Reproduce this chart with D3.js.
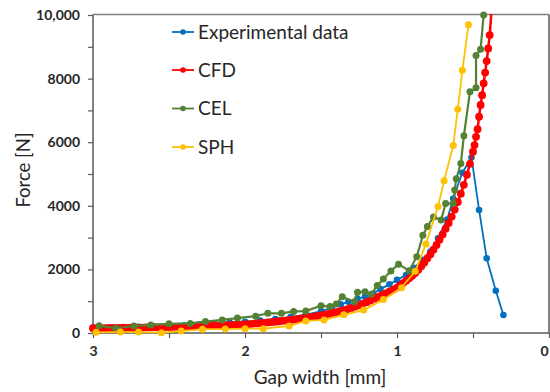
<!DOCTYPE html>
<html><head><meta charset="utf-8">
<script src="https://cdn.jsdelivr.net/npm/d3@7"></script>
<style>body{margin:0;background:#fff;} svg{display:block;}</style>
</head><body>
<svg id="chart" width="550" height="392"></svg>
<script>
// ---- data (gap width mm, force N) ----
const seriesNames = ["Experimental data", "CFD", "CEL", "SPH"];
const seriesColors = ["#0070C0", "#FF0000", "#548235", "#FFC000"];

const expGap = [3.0,2.9,2.8,2.7,2.6,2.5,2.4,2.3,2.2,2.1,2.0,1.9,1.8,1.7,1.6,1.5,1.43,1.37,1.32,1.26,1.21,1.16,1.11,1.05,1.0,0.94,0.89,0.83,0.78,0.73,0.67,0.63,0.57,0.51,0.46,0.41,0.35,0.30];
const expForce = [170,175,185,195,210,225,245,265,290,320,350,390,440,500,580,680,800,900,980,1080,1140,1230,1380,1530,1670,1820,2050,2300,2560,2980,3570,4230,5040,5520,3870,2350,1330,565];

const cfdGap = [3.0,2.975,2.95,2.925,2.9,2.875,2.85,2.825,2.8,2.775,2.75,2.725,2.7,2.675,2.65,2.625,2.6,2.575,2.55,2.525,
  2.5,2.475,2.45,2.425,2.4,2.375,2.35,2.325,2.3,2.275,2.25,2.225,2.2,2.175,2.15,2.125,2.1,2.075,2.05,2.025,
  2.0,1.975,1.95,1.925,1.9,1.875,1.85,1.825,1.8,1.775,1.75,1.725,1.7,1.675,1.65,1.625,1.6,1.575,1.55,1.525,
  1.5,1.475,1.45,1.425,1.4,1.375,1.35,1.325,1.3,1.275,1.25,1.225,1.2,1.175,1.15,1.125,1.1,1.075,1.05,1.025,1.0,
  0.98,0.96,0.94,0.92,0.9,0.88,0.86,0.84,0.82,0.8,0.78,0.76,0.74,0.72,0.7,0.68,0.66,0.64,0.62,0.6,0.58,0.56,0.54,0.52,
  0.5,0.49,0.48,0.47,0.46,0.45,0.44,0.43,0.42,0.41,0.4,0.39,0.37];
const cfdForce = [150,151,153,154,156,157,159,160,162,164,166,168,170,172,174,176,178,180,183,185,
  188,191,194,197,200,203,207,210,214,218,222,226,230,235,240,245,250,255,260,266,
  272,281,290,300,310,321,332,344,356,369,382,396,410,426,442,459,476,495,514,535,
  556,580,604,630,656,685,715,752,790,830,870,920,970,1025,1080,1135,1190,1245,1300,1365,1430,
  1500,1570,1640,1720,1800,1890,1990,2100,2220,2350,2480,2620,2770,2930,3100,3280,3460,3660,3880,4120,4380,4660,4980,5320,
  5700,5910,6170,6410,6800,7170,7480,7850,8190,8550,8950,9370,10700];

const celGap = [2.96,2.85,2.73,2.62,2.5,2.36,2.26,2.15,2.05,1.93,1.85,1.76,1.68,1.6,1.5,1.44,1.4,1.36,1.28,1.26,1.21,1.17,1.13,1.09,1.04,0.99,0.92,0.87,0.83,0.8,0.76,0.71,0.68,0.63,0.62,0.61,0.58,0.56,0.52,0.48,0.48,0.45,0.43];
const celForce = [230,150,220,250,290,300,360,410,470,530,620,620,680,690,860,830,910,1140,985,1280,1300,1215,1490,1700,1950,2165,1960,2400,3070,3350,3650,3550,4070,4070,4500,4850,5330,6200,7590,7710,8730,8920,10000];

const sphGap = [2.98,2.82,2.7,2.55,2.42,2.28,2.13,2.0,1.88,1.71,1.6,1.48,1.35,1.22,1.09,0.97,0.88,0.81,0.73,0.69,0.63,0.6,0.57,0.53];
const sphForce = [20,30,30,10,60,120,125,135,135,220,380,410,570,720,1050,1425,1940,2800,3975,4790,5900,7040,8260,9690];

const xTicks = [3, 2, 1, 0];
const xMinorTicks = [2.5, 1.5, 0.5];
const yTicks = [0, 2000, 4000, 6000, 8000, 10000];
const yMinorTicks = [1000, 3000, 5000, 7000, 9000];
const xTitle = "Gap width [mm]";
const yTitle = "Force [N]";

// ---- layout ----
const svg = d3.select("#chart");
const L = 93, R = 549, T = 15, B = 333;
const x = d3.scaleLinear().domain([3, 0]).range([L, R]);
const y = d3.scaleLinear().domain([0, 10000]).range([B, T]);
const FONT = "Lato, 'Open Sans', sans-serif";
const axisColor = "#595959";

const defs = svg.append("defs");
defs.append("clipPath").attr("id","clipLines")
  .append("rect").attr("x", L).attr("y", T-1).attr("width", R-L+2).attr("height", B-T+10);
defs.append("clipPath").attr("id","clipMarks")
  .append("rect").attr("x", L-8).attr("y", T-8).attr("width", R-L+12).attr("height", B-T+16);

// plot frame (top & right)
svg.append("line").attr("x1", L).attr("x2", R).attr("y1", T-0.5).attr("y2", T-0.5)
  .attr("stroke", "#7f7f7f").attr("stroke-width", 1.5);
svg.append("line").attr("x1", R).attr("x2", R).attr("y1", T-0.5).attr("y2", B)
  .attr("stroke", axisColor).attr("stroke-width", 1.5);

// axes
const gx = svg.append("g").attr("transform", `translate(0,${B})`)
  .call(d3.axisBottom(x).tickValues(xTicks).tickSize(5).tickPadding(8).tickFormat(d3.format("d")));
const gxm = svg.append("g").attr("transform", `translate(0,${B})`)
  .call(d3.axisBottom(x).tickValues(xMinorTicks).tickSize(5).tickFormat(""));
const gy = svg.append("g").attr("transform", `translate(${L},0)`)
  .call(d3.axisLeft(y).tickValues(yTicks).tickSize(5).tickPadding(8)
    .tickFormat(d => d >= 10000 ? d3.format(",")(d) : String(d)));
const gym = svg.append("g").attr("transform", `translate(${L},0)`)
  .call(d3.axisLeft(y).tickValues(yMinorTicks).tickSize(5).tickFormat(""));
[gx, gxm, gy, gym].forEach(g => {
  g.selectAll("path").attr("stroke", axisColor).attr("stroke-width", 1.5);
  g.selectAll("line").attr("stroke", axisColor).attr("stroke-width", 1.2);
  g.selectAll("text").attr("font-family", FONT).attr("font-size", 14)
    .attr("font-weight", "bold").attr("fill", "#262626");
});
gxm.select("path").remove();
gym.select("path").remove();
gx.select("path").attr("d", `M${L},0H${R}`);
gy.select("path").attr("d", `M0,${B}V${T-0.5}`);
// keep the last x label inside the window
gx.selectAll(".tick text").filter(d => d === 0).attr("text-anchor", "end").attr("x", -1);

// axis titles
svg.append("text").attr("x", 320).attr("y", 384).attr("text-anchor", "middle")
  .attr("font-family", FONT).attr("font-size", 19).attr("fill", "#262626").text(xTitle);
svg.append("text").attr("transform", "translate(30,170) rotate(-90)").attr("text-anchor", "middle")
  .attr("font-family", FONT).attr("font-size", 18.5).attr("fill", "#262626").text(yTitle);

// series
const series = [
  {gap: expGap, force: expForce, r: 3.3, w: 1.8},
  {gap: cfdGap, force: cfdForce, r: 3.9, w: 2.5},
  {gap: celGap, force: celForce, r: 3.5, w: 2.2},
  {gap: sphGap, force: sphForce, r: 3.5, w: 1.8}
];
const line = d3.line().x(d => x(d[0])).y(d => y(d[1]));
series.forEach((s, i) => {
  const pts = s.gap.map((g, j) => [g, s.force[j]]);
  svg.append("path").datum(pts).attr("d", line).attr("fill", "none")
    .attr("stroke", seriesColors[i]).attr("stroke-width", s.w)
    .attr("clip-path", "url(#clipLines)");
  svg.append("g").attr("clip-path", "url(#clipMarks)").selectAll("circle").data(pts).join("circle")
    .attr("cx", d => x(d[0])).attr("cy", d => y(d[1])).attr("r", s.r)
    .attr("fill", seriesColors[i]);
});

// legend
const legY = [32, 70, 108.5, 147];
seriesNames.forEach((n, i) => {
  const g = svg.append("g");
  g.append("line").attr("x1", 172).attr("x2", 194).attr("y1", legY[i]).attr("y2", legY[i])
    .attr("stroke", seriesColors[i]).attr("stroke-width", 1.8);
  g.append("circle").attr("cx", 183).attr("cy", legY[i]).attr("r", 2.8).attr("fill", seriesColors[i]);
  g.append("text").attr("x", 198).attr("y", legY[i]).attr("dy", "0.35em")
    .attr("font-family", FONT).attr("font-size", 19).attr("fill", "#262626").text(n);
});
</script>
</body></html>
